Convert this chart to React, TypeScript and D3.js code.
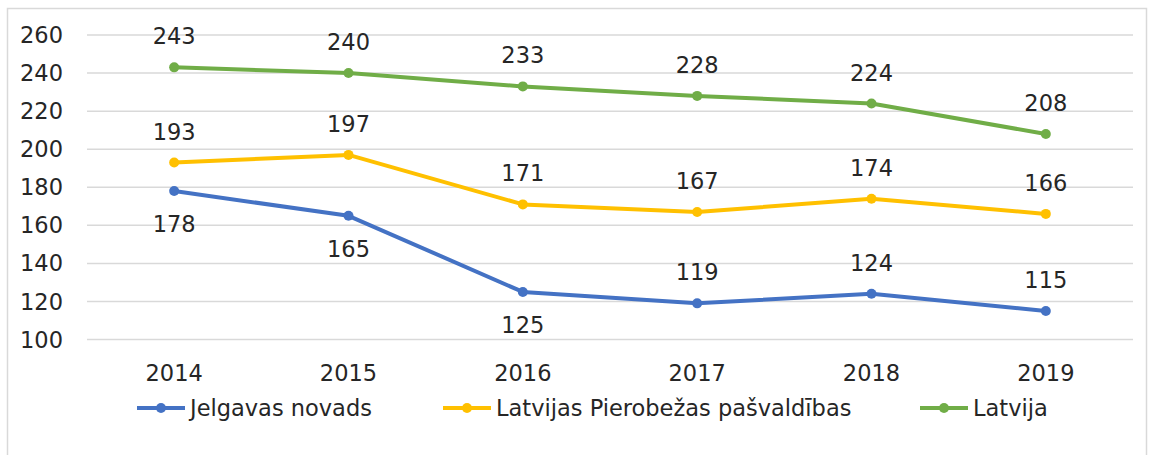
import React from "react";
import * as d3 from "d3";

const years = ["2014", "2015", "2016", "2017", "2018", "2019"];
const jelgava = [178, 165, 125, 119, 124, 115];
const pierobezas = [193, 197, 171, 167, 174, 166];
const latvija = [243, 240, 233, 228, 224, 208];
const yTicks = [100, 120, 140, 160, 180, 200, 220, 240, 260];
const jelgavaLabelBelow = [true, true, true, false, false, false];

const seriesNames = ["Jelgavas novads", "Latvijas Pierobežas pašvaldības", "Latvija"];
const seriesColors = ["#4472C4", "#FFC000", "#70AD47"];

const W = 1149;
const H = 455;
const FONT = "'DejaVu Sans', sans-serif";
const FS = 22.5;

export default function App() {
  const x = d3.scalePoint<string>().domain(years).range([87, 1133]).padding(0.5);
  const y = d3.scaleLinear().domain([100, 260]).range([339.5, 35]);
  const line = d3
    .line<number>()
    .x((_, i) => x(years[i]) as number)
    .y((d) => y(d));

  const series = [
    { name: seriesNames[0], color: seriesColors[0], values: jelgava, below: jelgavaLabelBelow },
    { name: seriesNames[1], color: seriesColors[1], values: pierobezas, below: years.map(() => false) },
    { name: seriesNames[2], color: seriesColors[2], values: latvija, below: years.map(() => false) },
  ];

  const legendX = [137, 443, 920];

  return (
    <div style={{ position: "absolute", left: 0, top: 0 }}>
      <svg width={W} height={H} style={{ display: "block", background: "#fff" }} fontFamily={FONT}>
        <rect x={7.5} y={8.5} width={1139} height={460} fill="#fff" stroke="#d9d9d9" strokeWidth={1.5} />
        {yTicks.map((t) => (
          <g key={t}>
            <line x1={87} x2={1133} y1={y(t)} y2={y(t)} stroke="#d9d9d9" strokeWidth={1.5} />
            <text x={63} y={y(t)} dy="0.36em" textAnchor="end" fontSize={FS} fill="#262626">
              {t}
            </text>
          </g>
        ))}
        {years.map((yr) => (
          <text key={yr} x={x(yr)} y={373} dy="0.36em" textAnchor="middle" fontSize={FS} fill="#262626">
            {yr}
          </text>
        ))}
        {series.map((s) => (
          <g key={s.name}>
            <path d={line(s.values) || ""} fill="none" stroke={s.color} strokeWidth={4} strokeLinejoin="round" />
            {s.values.map((v, i) => (
              <circle key={i} cx={x(years[i])} cy={y(v)} r={5} fill={s.color} />
            ))}
            {s.values.map((v, i) => (
              <text
                key={"l" + i}
                x={x(years[i])}
                y={y(v) + (s.below[i] ? 33 : -31)}
                dy="0.36em"
                textAnchor="middle"
                fontSize={FS}
                fill="#262626"
              >
                {v}
              </text>
            ))}
          </g>
        ))}
        {series.map((s, i) => (
          <g key={"leg" + i} transform={`translate(${legendX[i]},408)`}>
            <line x1={0} x2={48} y1={0} y2={0} stroke={s.color} strokeWidth={4} />
            <circle cx={24} cy={0} r={5} fill={s.color} />
            <text x={53} y={0} dy="0.36em" fontSize={FS} fill="#262626">
              {s.name}
            </text>
          </g>
        ))}
      </svg>
    </div>
  );
}
